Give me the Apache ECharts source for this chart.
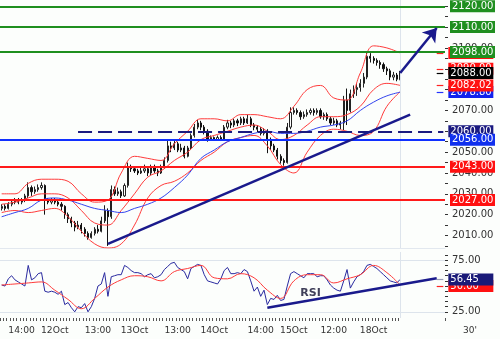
<!DOCTYPE html>
<html><head><meta charset="utf-8">
<script src="https://cdn.jsdelivr.net/npm/echarts@6/dist/echarts.min.js"></script>
<style>html,body{margin:0;padding:0;background:#fcfefc;}#c{width:500px;height:339px;}</style>
</head><body><div id="c"></div>
<script>
// ---- x axis (hourly bars) ----
const nCats = 134;
const lastBar = 120;
const tickIdx = [6,16,29,40,53,64,78,88,100,112];
const tickLabels = ['14:00','12Oct','13:00','13Oct','13:00','14Oct','14:00','15Oct','12:00','18Oct'];

// ---- price bars ----
const opens = [2023,2024,2023,2025,2026,2027,2026,2027,2029,2033,2031,2032,2033,2034,2027,2026,2027,2026,2025,2024,
2020,2018,2016,2014,2015,2013,2011,2009,2011,2013,2012,2017,2022,2019,2032,2030,2031,2029,2034,2043,
2042,2041,2040,2041,2042,2040,2043,2041,2040,2043,2046,2053,2052,2054,2051,2052,2048,2052,2058,2062,
2064,2062,2060,2056,2057,2056,2057,2056,2062,2064,2063,2065,2064,2066,2064,2066,2063,2062,2061,2059,
2060,2056,2053,2051,2048,2046,2045,2062,2069,2070,2069,2067,2068,2069,2070,2069,2070,2067,2068,2066,
2064,2065,2063,2064,2075,2070,2078,2080,2081,2083,2086,2096,2095,2094,2093,2092,2090,2089,2086,2087,2085];
const closes = [2024,2023,2025,2026,2027,2026,2027,2029,2033,2031,2032,2033,2034,2027,2026,2027,2026,2025,2024,2020,
2018,2016,2014,2015,2013,2011,2009,2011,2013,2012,2017,2022,2019,2032,2030,2031,2029,2034,2043,2042,
2041,2040,2041,2042,2040,2043,2041,2040,2043,2046,2053,2052,2054,2051,2052,2048,2052,2058,2062,2064,
2062,2060,2056,2057,2056,2057,2056,2062,2064,2063,2065,2064,2066,2064,2066,2063,2062,2061,2059,2060,
2056,2053,2051,2048,2046,2045,2062,2069,2070,2069,2067,2068,2069,2070,2069,2070,2067,2068,2066,2064,
2065,2063,2064,2075,2070,2078,2080,2081,2083,2086,2096,2095,2094,2093,2092,2090,2089,2086,2087,2085,2088];
const lows = [2022,2022,2022.5,2024,2025,2025,2025,2026,2028,2029,2030,2031,2032,2020,2025,2025,2025,2024,2022,2018,
2016,2014,2012,2013,2011,2009.5,2008,2008.5,2010,2011,2011.5,2016,2005,2018,2029,2029,2028,2028.5,2033,2040.5,
2040,2039,2039.5,2040,2038.5,2039,2040,2038.5,2039.5,2042,2045,2050,2051,2050,2050,2047,2047.5,2051,2057,2061,
2060.5,2058.5,2055,2055.5,2055.5,2055.5,2055.5,2055.5,2061,2061.5,2062,2062.5,2063,2063,2063.5,2062,2060.5,2059.5,2058,2058,
2049.5,2051,2050,2046.5,2044.5,2043.5,2044.5,2061,2068,2068,2065.5,2066,2067,2068,2067.5,2068,2066,2065.5,2065,2063,
2063,2062,2061,2060.5,2063,2069,2076,2077,2079,2081,2085,2093,2092.5,2091.5,2090,2088.5,2087,2084.5,2084.5,2084,2084.5];
const highs = [2025,2025,2026,2027,2028,2028,2028,2030,2035.5,2034,2033.5,2034.5,2035.5,2034.5,2028,2028,2028,2027,2026,2024.5,
2021,2019,2017,2017,2016,2014,2012,2012,2014,2015,2019,2024.5,2023,2034,2033.5,2033,2032,2035,2045,2044,
2043,2042,2043,2044,2043,2044,2044,2042,2044,2047.5,2056,2055,2055.5,2055,2054,2053,2053,2059,2063.5,2065.5,
2065,2063,2061,2058,2057.5,2058,2058,2063,2065.5,2065,2066,2066,2067,2067,2068,2067,2064,2063,2062,2061.5,
2061,2057,2054,2052,2049,2047,2064,2071.5,2071.5,2071,2070,2069.5,2070.5,2071,2071,2071,2071,2069,2069,2067,
2066.5,2066,2065,2077,2080.5,2080,2082,2083,2085,2088,2098,2097.5,2096,2095,2094,2093,2091,2090,2088.5,2088,2089];

// ---- indicator samples (every 4 bars) ----
const bandIdx = [0,4,8,12,16,20,24,28,32,36,40,44,48,52,56,60,64,68,72,76,80,84,88,92,96,100,104,108,112,116,120];
const bbUpper = [2030,2030,2035,2037,2037,2036,2030,2026,2027,2040,2048,2047,2046,2054,2060,2066,2066,2065,2068,2068,2067,2066,2072,2080,2082,2076,2075,2088,2101,2100,2097.6];
const bbMid   = [2025,2026,2028,2030,2030,2028,2022,2016,2015,2022,2030,2038,2041,2046,2050,2056,2058,2060,2062,2063,2060,2056,2058,2063,2067,2067,2068,2072,2080,2083,2082.02];
const bbLower = [2021,2022,2021,2022,2023,2019,2012,2006,2004,2006,2015,2028,2034,2036,2040,2046,2050,2055,2057,2058,2053,2044,2040,2050,2058,2061,2060,2058,2060,2072,2079];
const maBlue  = [2019,2021,2023,2027,2028,2027,2025,2023,2022,2021,2023,2025,2028,2033,2039,2047,2051,2055,2057,2059,2060,2059,2059,2060,2062,2063,2065,2070,2074,2077,2078.8];

// ---- RSI ----
const rsi = [51,50,57,60,56,54,52,50,70,56,58,62,63,45,44,45,44,42,45,32,
34,29,25,30,29,33,25,30,38,50,52,63,40,59,60,61,61,70,68,65,
63,63,62,59,61,62,58,59,61,66,69,72,73,68,66,64,57,67,69,71,
70,61,55,54,53,52,57,65,68,62,62,63,62,66,64,55,45,49,40,46,
32,38,37,41,36,37,50,62,64,62,60,58,62,62,62,59,60,60,56,51,
48,46,45,55,66,48,54,59,61,64,70,71,69,67,64,61,58,55,54,53,56.45];
const rsiMa = [51,52,53,54,46,37,28,38,49,56,60,59,55,64,67,70,58,57,62,58,46,38,55,61,61,53,57,61,70,63,51];

// ---- levels ----
const greenLevels = [2120, 2110, 2098];
const support = {dashed:2060, blue:2056, red1:2043, red2:2027};
const lastPrice = 2088;
const upperInner = 2090;
const rsiMaLast = 50;
const trendMain = [[32,2006],[123,2068]];
const trendArrow = [[120,2088],[131,2109.6]];
const trendRsi = [[80,29],[131,57.5]];
const rsiGrid = [25, 75];

const FONT = 'DejaVu Sans';
const cats = Array.from({length:nCats}, (_, i) => String(i));
const pairs = (vals) => bandIdx.map((x, k) => [x, vals[k]]);
const ohlc = closes.map((c, i) => [opens[i], c, lows[i], highs[i]]);

function boxLabel(v, bg) {
  return {show:true, position:'end', distance:5, formatter: v.toFixed(2), width:41, align:'left',
    color:'#fff', backgroundColor:bg, padding:[1,2,1,2], fontSize:10, fontFamily:FONT, lineHeight:10};
}
function level(v, color, width, type, bg, startIdx) {
  const ls = {color, width, type: type||'solid'};
  if (startIdx != null) {
    return [{coord:[startIdx, v], lineStyle:ls, label:boxLabel(v, bg)}, {coord:[nCats-1, v]}];
  }
  return {yAxis:v, lineStyle:ls, label:boxLabel(v, bg)};
}
function stub(v, color, bg) {
  return [{coord:[nCats-3, v], lineStyle:{color, width:1.2, type:'solid'}, label:boxLabel(v, bg)}, {coord:[nCats-1, v]}];
}
function seg(p, color, width, arrow) {
  return [{coord:p[0], lineStyle:{color, width, type:'solid'}, label:{show:false}},
          {coord:p[1], symbol: arrow ? 'arrow' : 'none', symbolSize: arrow ? 13 : 0}];
}

const chart = echarts.init(document.getElementById('c'), null, {renderer:'canvas'});
chart.setOption({
  animation:false,
  backgroundColor:'#fcfefc',
  grid:[
    {left:0, right:55, top:0, height:248},
    {left:0, right:55, top:252, height:66}
  ],
  xAxis:[
    {type:'category', gridIndex:0, data:cats, boundaryGap:true,
     axisLine:{show:true, lineStyle:{color:'#e2e8ef'}}, axisTick:{show:false}, axisLabel:{show:false}},
    {type:'category', gridIndex:1, data:cats, boundaryGap:true,
     axisLine:{show:false},
     axisTick:{show:true, length:3, interval:(i)=> i <= lastBar, lineStyle:{color:'#555'}},
     axisLabel:{show:true, interval:(i)=> tickIdx.indexOf(i) >= 0,
       formatter:(v, i)=> tickLabels[tickIdx.indexOf(i)] || '', color:'#333', fontSize:9.2, fontFamily:FONT, margin:8}}
  ],
  yAxis:[
    {type:'value', gridIndex:0, position:'right', min:2004, max:2123,
     axisLine:{show:false}, splitLine:{show:false},
     axisTick:{show:true, length:3, lineStyle:{color:'#333'},
       customValues:[2005,2010,2015,2020,2025,2030,2035,2040,2045,2050,2055,2060,2065,2070,2075,2080,2085,2090,2095,2100,2105,2110,2115,2120]},
     axisLabel:{customValues:[2010,2020,2030,2040,2050,2060,2070,2080,2090,2100,2110,2120],
       formatter:(v)=> v.toFixed(2), color:'#333', fontSize:10, fontFamily:FONT, margin:7}},
    {type:'value', gridIndex:1, position:'right', min:19, max:83,
     axisLine:{show:false}, splitLine:{show:false},
     axisTick:{show:true, length:3, lineStyle:{color:'#333'}, customValues:[25,30,35,40,45,50,55,60,65,70,75,80]},
     axisLabel:{customValues:[25,50,75], formatter:(v)=> v.toFixed(2), color:'#333', fontSize:10, fontFamily:FONT, margin:7}}
  ],
  graphic:[{type:'text', left:463, top:326, style:{text:"30'", font:'9px "DejaVu Sans"', fill:'#333'}}],
  series:[
    {type:'line', xAxisIndex:0, yAxisIndex:0, data:[], silent:true,
     markLine:{silent:true, symbol:['none','none'], animation:false,
       data:[{xAxis:lastBar, lineStyle:{color:'#dde4ec', width:1, type:'solid'}, label:{show:false}}]}},
    {type:'candlestick', xAxisIndex:0, yAxisIndex:0, data:ohlc, barMaxWidth:2,
     itemStyle:{color:'#ffffff', color0:'#111', borderColor:'#222', borderColor0:'#111', borderWidth:1}},
    {type:'line', xAxisIndex:0, yAxisIndex:0, data:pairs(bbUpper), smooth:0.4, symbol:'none', lineStyle:{color:'#ff3b3b', width:1}},
    {type:'line', xAxisIndex:0, yAxisIndex:0, data:pairs(bbMid), smooth:0.4, symbol:'none', lineStyle:{color:'#ff3b3b', width:1}},
    {type:'line', xAxisIndex:0, yAxisIndex:0, data:pairs(bbLower), smooth:0.4, symbol:'none', lineStyle:{color:'#ff3b3b', width:1}},
    {type:'line', xAxisIndex:0, yAxisIndex:0, data:pairs(maBlue), smooth:0.4, symbol:'none', lineStyle:{color:'#3344ee', width:1},
     markLine:{silent:true, symbol:['none','none'], animation:false,
       data:[
         level(greenLevels[0], '#1f8f1f', 2, 'solid', '#1f8f1f'),
         level(greenLevels[1], '#1f8f1f', 2, 'solid', '#1f8f1f'),
         stub(bbUpper[bbUpper.length-1], '#ff2222', '#ff1111'),
         level(greenLevels[2], '#1f8f1f', 2, 'solid', '#1f8f1f'),
         stub(maBlue[maBlue.length-1], '#2233ff', '#1122ee'),
         stub(bbMid[bbMid.length-1], '#ff2222', '#ff1111'),
         stub(upperInner, '#ff2222', '#ff1111'),
         stub(lastPrice, '#000', '#000'),
         level(support.dashed, '#1a1a80', 2, [14,6], '#1a1a80', 23),
         level(support.blue, '#1030ff', 2, 'solid', '#1030ee'),
         level(support.red1, '#ff1a1a', 2, 'solid', '#ff1010'),
         level(support.red2, '#ff1a1a', 2, 'solid', '#ff1010'),
         seg(trendMain, '#1a1a8c', 2.5, false),
         seg(trendArrow, '#1a1a8c', 2.5, true)
       ]}},
    {type:'line', xAxisIndex:1, yAxisIndex:1, data:rsi, symbol:'none', lineStyle:{color:'#2a2aa0', width:1},
     markLine:{silent:true, symbol:['none','none'], animation:false,
       data:[
         {yAxis:rsiGrid[0], lineStyle:{color:'#dde4ec', width:1, type:'solid'}, label:{show:false}},
         {yAxis:rsiGrid[1], lineStyle:{color:'#dde4ec', width:1, type:'solid'}, label:{show:false}},
         {xAxis:lastBar, lineStyle:{color:'#dde4ec', width:1, type:'solid'}, label:{show:false}}
       ]}},
    {type:'line', xAxisIndex:1, yAxisIndex:1, data:bandIdx.map((x,k)=>[x, rsiMa[k]]), smooth:0.4, symbol:'none',
     lineStyle:{color:'#ff3b3b', width:1},
     markPoint:{silent:true, symbol:'circle', symbolSize:0,
       data:[{coord:[93, 43], label:{show:true, formatter:'RSI', color:'#40405a', fontWeight:'bold', fontSize:11, fontFamily:FONT}}]},
     markLine:{silent:true, symbol:['none','none'], animation:false,
       data:[
         stub(rsiMaLast, '#ff2222', '#ff1111'),
         stub(rsi[rsi.length-1], '#9aa0b8', '#1a1a78'),
         seg(trendRsi, '#1a1a8c', 2.5, false)
       ]}}
  ]
});
</script></body></html>
